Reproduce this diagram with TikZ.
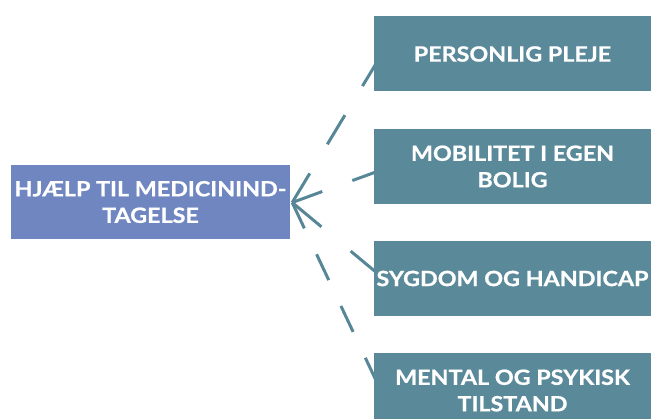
\documentclass[tikz,border=0pt]{standalone}
\usepackage{fontspec}
\setmainfont{Lato}
\newfontfamily\boxfont{Lato}[FakeStretch=1.11, FakeBold=0.8]
\usetikzlibrary{backgrounds,calc}
\definecolor{boxteal}{HTML}{5A8999}
\definecolor{boxblue}{HTML}{6F86C1}
\definecolor{lineteal}{HTML}{578797}
\begin{document}
\begin{tikzpicture}[x=1pt,y=-1pt,
  rbox/.style={fill=boxteal, draw=none, minimum width=277pt, minimum height=75pt,
    inner sep=0pt, text=white, font=\boxfont\bfseries\fontsize{21}{26.5}\selectfont, align=center},
  lbox/.style={rbox, fill=boxblue, minimum width=279pt, minimum height=74pt},
  conn/.style={draw=lineteal, line width=3pt}]
\useasboundingbox (0,0) rectangle (651,419);
\clip (0,0) rectangle (651,419);
\node[lbox] (main) at (150.5,202) {HJÆLP TIL MEDICININD-\\TAGELSE};
\node[rbox] (p1) at (512.5,54) {PERSONLIG PLEJE};
\node[rbox] (p2) at (512.5,166.5) {MOBILITET I EGEN\\BOLIG};
\node[rbox] (p3) at (512.5,278.5) {SYGDOM OG HANDICAP};
\node[rbox] (p4) at (512.5,390.5) {MENTAL OG PSYKISK\\TILSTAND};
\coordinate (tip) at ($(main.east)+(2,0.5)$);
\begin{scope}[on background layer]
\draw[conn, dash pattern=on 34pt off 34pt] (tip) -- ($(p1.west)+(2,10)$);
\draw[conn, dash pattern=on 32pt off 32pt] (tip) -- ($(p2.west)+(2,5.5)$);
\draw[conn, dash pattern=on 38pt off 38pt] (tip) -- ($(p3.west)+(2,-6.5)$);
\draw[conn, dash pattern=on 28.6pt off 28.6pt] (tip) -- ($(p4.west)+(2,-10.5)$);
\end{scope}
\end{tikzpicture}
\end{document}
